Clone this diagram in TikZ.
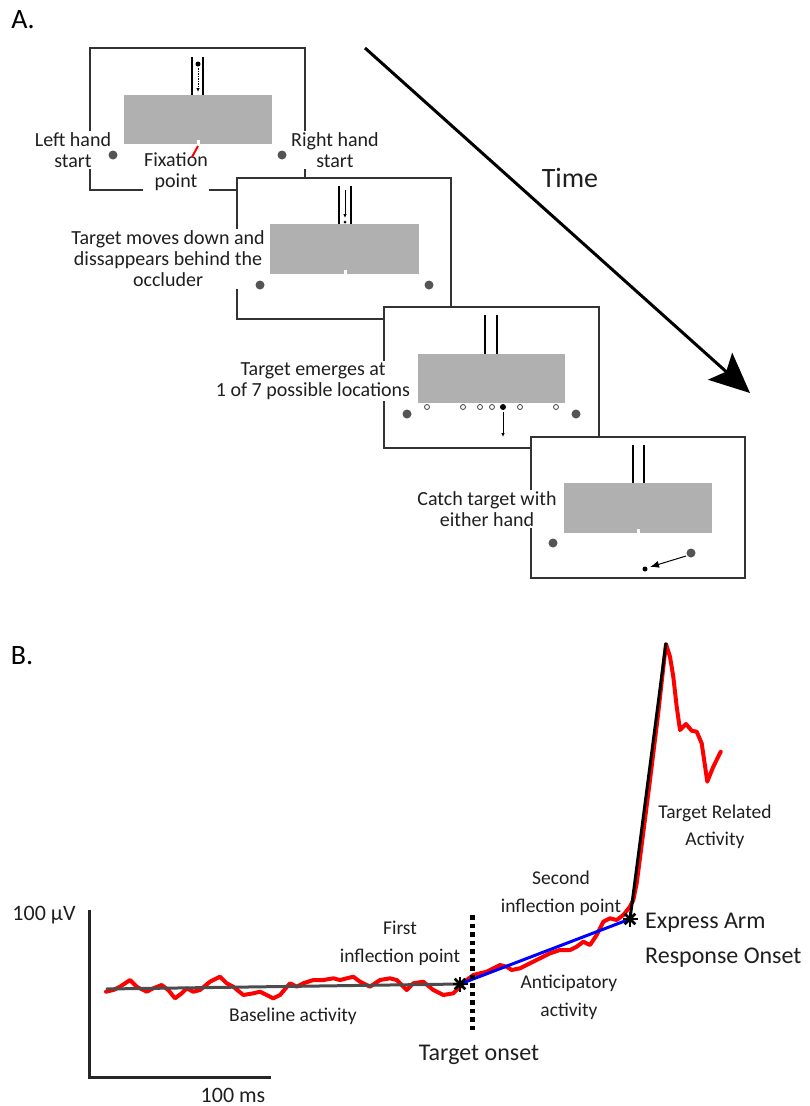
\documentclass[tikz,border=0pt]{standalone}
\usepackage{fontspec}
\setmainfont{Carlito}
\usetikzlibrary{arrows.meta}
\begin{document}
\begin{tikzpicture}[x=1pt,y=-1pt,
  panel/.style={draw=black!80, line width=1.5pt, fill=white},
  occ/.style={fill=black!31},
  tube/.style={line width=2pt, black},
  hand/.style={fill=black!67},
  plab/.style={fill=white, inner sep=1.5pt, align=center, font=\fontsize{20}{21}\selectfont, text=black!88},
  glab/.style={align=center, inner sep=0pt, font=\fontsize{19.5}{28}\selectfont, text=black!88},
  big/.style={inner sep=0pt, font=\fontsize{24}{35}\selectfont, text=black!88},
  smallarrow/.style={line width=0.8pt, -{Latex[length=4pt,width=3.5pt]}},
  opencirc/.style={draw=black!75, line width=0.8pt, fill=white}
]
\useasboundingbox (0,0) rectangle (809,1106);

% ---------------- Panel A labels ----------------
\node[font=\fontsize{28}{30}\selectfont, inner sep=0pt] (labA) at (23,20) {A.};
\node[font=\fontsize{28}{30}\selectfont, inner sep=0pt] (labB) at (22,656) {B.};

% ---------------- Panel 1 ----------------
\draw[panel] (90,48) rectangle (305,190);
\node[plab] (lh) at (73,150) {Left hand\\start};
\node[plab] (rh) at (335,150) {Right hand\\start};
\node[plab] (fx) at (176,172) {Fixation\\point};
\fill[occ] (124,95) rectangle (272,144);
\fill[white] (197,140) rectangle (199.5,144);
\draw[tube] (192,57) -- (192,95);
\draw[tube] (203,57) -- (203,95);
\fill (198,64) circle[radius=2.5pt];
\coordinate (a1s) at (198,68);
\coordinate (a1e) at (198,92);
\draw[smallarrow, dash pattern=on 1.5pt off 1pt] (a1s) -- (a1e);
\fill[hand] (113,155) circle[radius=4.5pt];
\fill[hand] (282,155) circle[radius=4.5pt];
\draw[red, line width=2pt] (192,157) -- (198,146);

% ---------------- Panel 2 ----------------
\draw[panel] (237,178) rectangle (451,319);
\node[plab] (t2) at (168,259) {Target moves down and\\dissappears behind the\\occluder};
\fill[occ] (270,224) rectangle (419,274);
\fill[white] (344,270) rectangle (346.5,274);
\draw[tube] (339,186) -- (339,224);
\draw[tube] (351,186) -- (351,224);
\coordinate (a2s) at (345,190);
\coordinate (a2e) at (345,218);
\draw[smallarrow] (a2s) -- (a2e);
\fill (345,222) circle[radius=1.5pt];
\fill[hand] (260,285) circle[radius=4.5pt];
\fill[hand] (429,285) circle[radius=4.5pt];

% ---------------- Panel 3 ----------------
\draw[panel] (384,307) rectangle (599,448);
\node[plab] (t3) at (313,381) {Target emerges at\\1 of 7 possible locations};
\fill[occ] (418,354) rectangle (565,403);
\draw[tube] (485,315) -- (485,354);
\draw[tube] (497,315) -- (497,354);
\foreach \xx in {427,463,480,492,520,556}
  \draw[opencirc] (\xx,407) circle[radius=2.5pt];
\fill (503,407) circle[radius=3pt];
\coordinate (a3s) at (503,412);
\coordinate (a3e) at (503,437);
\draw[smallarrow] (a3s) -- (a3e);
\fill[hand] (407,414) circle[radius=4.5pt];
\fill[hand] (576,414) circle[radius=4.5pt];

% ---------------- Panel 4 ----------------
\draw[panel] (531,437) rectangle (745,578);
\node[plab] (t4) at (487,509) {Catch target with\\either hand};
\fill[occ] (564,483) rectangle (712,533);
\fill[white] (637,529) rectangle (639.5,533);
\draw[tube] (633,445) -- (633,483);
\draw[tube] (644,445) -- (644,483);
\fill[hand] (553,543) circle[radius=4.5pt];
\fill[hand] (691,553) circle[radius=4.5pt];
\fill (645,569) circle[radius=2.5pt];
\coordinate (a4s) at (686,556);
\coordinate (a4e) at (650,567);
\draw[line width=1pt, -{Latex[length=9pt,width=7pt]}] (a4s) -- (a4e);

% ---------------- Time arrow ----------------
\coordinate (ts) at (365,48);
\coordinate (te) at (750,393);
\draw[line width=3pt, -{Stealth[length=40pt,width=36pt,inset=8pt]}] (ts) -- (te);
\node[font=\fontsize{28}{30}\selectfont, inner sep=0pt, text=black!88] (time) at (570,178) {Time};

% ---------------- Panel B: graph ----------------
\coordinate (yax) at (89,910);
\coordinate (org) at (89,1077);
\coordinate (xax) at (271,1077);
\draw[line width=3pt, black!85] (yax) -- (org) -- (xax);
\node[font=\fontsize{22}{24}\selectfont, inner sep=0pt, text=black!88] (uv) at (44,915) {100 μV};
\node[font=\fontsize{22}{24}\selectfont, inner sep=0pt, text=black!88] (ms) at (233,1095) {100 ms};

% red trace
\draw[red, line width=4pt, line join=round, line cap=round] plot coordinates {
(106,991.7) (113.3,990) (120,986.7) (130,980) (136.7,986.7) (146.7,991.7) (153.3,988.3)
(161.7,985) (168.3,990) (175,998.3) (181.7,993.3) (186.7,988.3) (193.3,991.7) (200,990)
(210,981.7) (220,976.7) (226.7,983.3) (233.3,986.7) (243.3,995) (253.3,993.3) (260,991.7)
(266.7,995) (273.3,998.3) (280,995) (290,983.3) (296.7,986.7) (303.3,983.3) (313.3,980)
(323.3,980) (333.3,978.3) (340,980) (353.3,976.7) (360,981.7) (370,986.7) (380,980)
(390,978.3) (396.7,980) (406.7,990) (413.3,983.3) (423.3,981.7) (433.3,990) (443.3,995)
(453.3,993.3) (460,986.7) (466.7,980) (473.3,975) (486.7,971.7) (500,965) (506.7,966.7)
(511.7,970) (520,968.3) (530,963.3) (540,958.3) (550,953.3) (560,950) (570,950)
(576.7,946.7) (583.3,941.7) (590,945) (596.7,935) (603.3,921.7) (610,918.3) (616.7,920)
(623.3,915) (630,906.7) (633.3,900) (636.7,883.3) (641,850) (650,780) (658,715) (663,670)
(666,644) (670,656.7) (673.3,676.7) (676.7,706.7) (680,730) (686,724) (691.7,730.7)
(696.7,731.7) (701.7,743.3) (707.3,781.7) (713.3,766.7) (720.7,751.7)};

\coordinate (b0) at (106,989);
\coordinate (p1) at (460,984);
\coordinate (p2) at (630,919);
\coordinate (pk) at (666,643);
\draw[line width=3pt, black!70] (b0) -- (p1);
\draw[blue, line width=3pt] (p1) -- (p2);
\draw[black, line width=3pt] (p2) -- (pk);

% target onset dotted line
\coordinate (d1) at (472,915);
\coordinate (d2) at (472,1030);
\draw[line width=5pt, dash pattern=on 4.5pt off 4pt] (d1) -- (d2);

% asterisks
\foreach \c in {p1,p2}
  \foreach \a in {0,45,90,135}
    \draw[line width=2.6pt] (\c) ++(\a:7.5pt) -- ++(\a+180:15pt);

\node[glab] (first) at (400,943) {First\\inflection point};
\node[glab] (base) at (293,1016) {Baseline activity};
\node[big] (onset) at (479,1055) {Target onset};
\node[glab] (second) at (561,893) {Second\\inflection point};
\node[glab] (antic) at (569,997) {Anticipatory\\activity};
\node[big, align=left, anchor=west] (expr) at (645,940) {Express Arm\\Response Onset};
\node[glab, font=\fontsize{19.5}{27}\selectfont] (trel) at (715,827) {Target Related\\Activity};
\end{tikzpicture}
\end{document}
